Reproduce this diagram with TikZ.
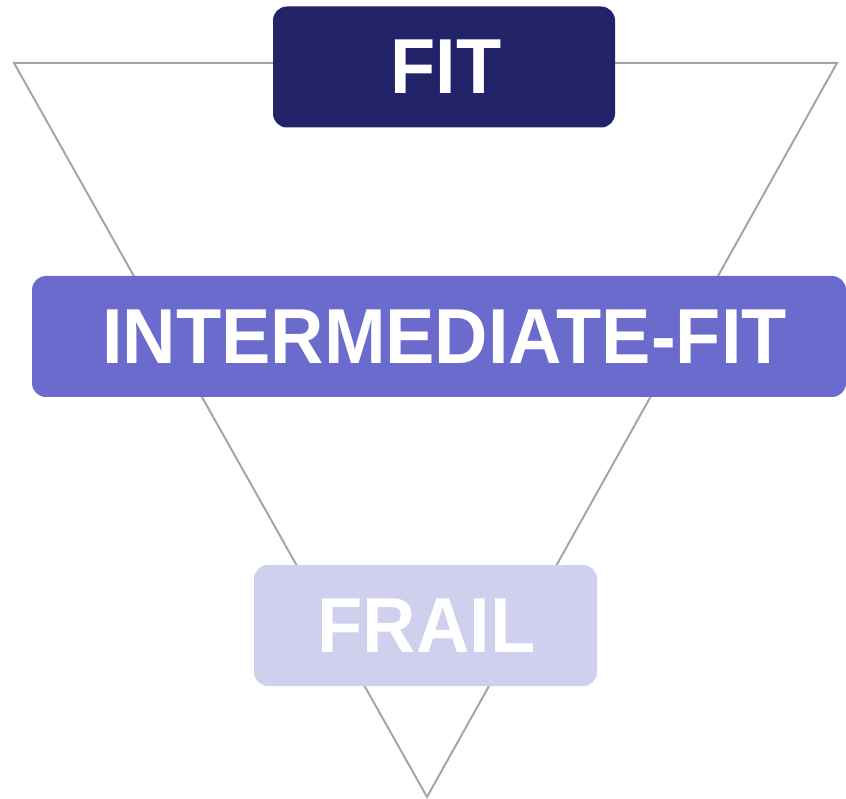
\documentclass[tikz,border=0pt]{standalone}
\usepackage{fontspec}
\usepackage{graphicx}
\setmainfont{Liberation Sans}
\definecolor{fitcol}{HTML}{23236A}
\definecolor{midcol}{HTML}{6B6BCD}
\definecolor{frailcol}{HTML}{CFCFEE}
\definecolor{edgegray}{HTML}{A6A6A6}
\newcommand{\levellabel}[1]{\scalebox{0.948}[1]{#1}}
\begin{document}
\begin{tikzpicture}[x=1pt,y=-1pt,
  levelbox/.style={rounded corners=14pt, inner sep=0pt, text=white,
    font=\fontsize{78}{80}\selectfont\bfseries, minimum height=121pt},
  outline/.style={draw=edgegray, line width=2pt, line join=miter}]
  \useasboundingbox (0,0) rectangle (846,799);
  % inverted triangle behind the levels
  \coordinate (tl) at (14,63);
  \coordinate (tr) at (837,63);
  \coordinate (bot) at (427,797);
  \draw[outline] (tl) -- (tr) -- (bot) -- cycle;
  % the three levels
  \node[levelbox, fill=fitcol, minimum width=342pt] (fit) at (444,67)
    {\hspace*{4pt}\levellabel{FIT}};
  \node[levelbox, fill=midcol, minimum width=814pt] (mid) at (439,336.5)
    {\hspace*{11pt}\levellabel{INTERMEDIATE-FIT}};
  \node[levelbox, fill=frailcol, minimum width=343pt] (frail) at (425.5,625.5)
    {\hspace*{2pt}\levellabel{FRAIL}};
\end{tikzpicture}
\end{document}
